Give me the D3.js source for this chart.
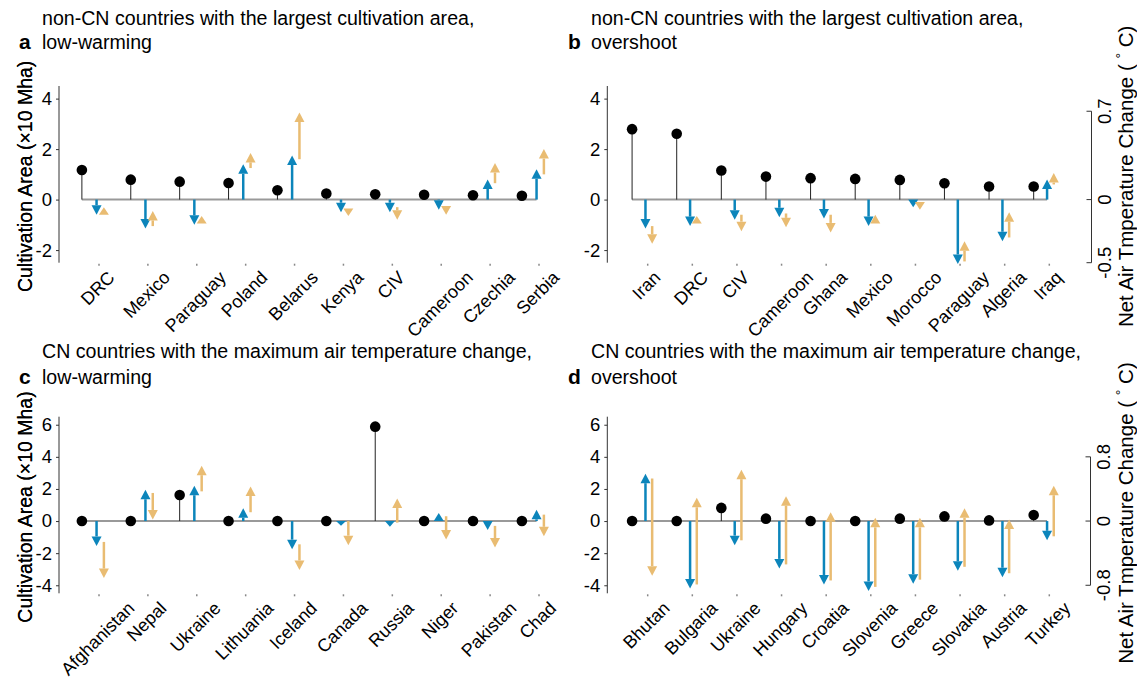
<!DOCTYPE html>
<html>
<head>
<meta charset="utf-8">
<script src="https://cdn.jsdelivr.net/npm/d3@7"></script>
<style>
  body { margin: 0; background: #fff; }
  svg text { font-family: "Liberation Sans", Arial, sans-serif; fill: #000; }
</style>
</head>
<body>
<div id="chart"></div>
<script>
// ---- data (area in x10 Mha, temperature in deg C) ----
var countriesA = ["DRC", "Mexico", "Paraguay", "Poland", "Belarus", "Kenya", "CIV", "Cameroon", "Czechia", "Serbia"];
var areaA = [1.17, 0.79, 0.71, 0.66, 0.37, 0.24, 0.21, 0.19, 0.17, 0.15];
var blueA = [-0.12, -0.23, -0.20, 0.28, 0.35, -0.10, -0.10, -0.08, 0.16, 0.24];
var tanFromA = [-0.12, -0.21, -0.19, 0.25, 0.32, -0.07, -0.06, -0.05, 0.13, 0.20];
var tanToA = [-0.06, -0.09, -0.13, 0.37, 0.69, -0.13, -0.16, -0.12, 0.29, 0.40];

var countriesB = ["Iran", "DRC", "CIV", "Cameroon", "Ghana", "Mexico", "Morocco", "Paraguay", "Algeria", "Iraq"];
var areaB = [2.79, 2.61, 1.15, 0.91, 0.85, 0.82, 0.78, 0.65, 0.52, 0.52];
var blueB = [-0.23, -0.21, -0.16, -0.14, -0.15, -0.21, -0.06, -0.51, -0.33, 0.16];
var tanFromB = [-0.21, -0.19, -0.12, -0.11, -0.12, -0.19, -0.02, -0.49, -0.30, 0.12];
var tanToB = [-0.35, -0.13, -0.25, -0.22, -0.26, -0.12, -0.08, -0.33, -0.10, 0.21];

var countriesC = ["Afghanistan", "Nepal", "Ukraine", "Lithuania", "Iceland", "Canada", "Russia", "Niger", "Pakistan", "Chad"];
var areaC = [0, 0, 1.62, 0, 0, 0, 5.88, 0, 0, 0];
var blueC = [-0.31, 0.39, 0.44, 0.16, -0.35, -0.06, -0.07, 0.10, -0.11, 0.14];
var tanFromC = [-0.26, 0.35, 0.37, 0.11, -0.29, 0.00, -0.02, 0.06, -0.06, 0.08];
var tanToC = [-0.71, 0.02, 0.69, 0.43, -0.61, -0.30, 0.28, -0.23, -0.33, -0.19];

var countriesD = ["Bhutan", "Bulgaria", "Ukraine", "Hungary", "Croatia", "Slovenia", "Greece", "Slovakia", "Austria", "Turkey"];
var areaD = [0, 0, 0.82, 0.15, 0, 0, 0.15, 0.29, 0.04, 0.38];
var blueD = [0.59, -0.84, -0.30, -0.59, -0.79, -0.87, -0.78, -0.62, -0.70, -0.24];
var tanFromD = [0.53, -0.79, -0.24, -0.54, -0.74, -0.82, -0.73, -0.57, -0.65, -0.19];
var tanToD = [-0.68, 0.29, 0.64, 0.31, 0.11, 0.04, 0.04, 0.16, 0.02, 0.44];

var titlesA = ["non-CN countries with the largest cultivation area,", "low-warming"];
var titlesB = ["non-CN countries with the largest cultivation area,", "overshoot"];
var titlesC = ["CN countries with the maximum air temperature change,", "low-warming"];
var titlesD = ["CN countries with the maximum air temperature change,", "overshoot"];

var areaTicksTop = [-2, 0, 2, 4];
var areaTicksBottom = [-4, -2, 0, 2, 4, 6];
var tempTicksTop = [-0.5, 0, 0.7];
var tempTicksBottom = [-0.8, 0, 0.8];

var blue = "#0c85bb", tan = "#e9bc72";

var svg = d3.select("#chart").append("svg")
    .attr("width", 1137)
    .attr("height", 685);

function drawPanel(p) {
  var g = svg.append("g");

  var x = d3.scaleLinear().domain([1, 10]).range([p.x1, p.x10]);
  var y = d3.scaleLinear().domain(p.yDomain).range([p.bottom, p.top]);
  // temperature shares the same zero, 1 deg C = 5 area units
  var yT = d3.scaleLinear().domain([p.yDomain[0] / 5, p.yDomain[1] / 5]).range([p.bottom, p.top]);

  var rows = p.names.map(function(n, i) {
    return { name: n, i: i + 1, area: p.area[i], blue: p.blue[i], tf: p.tanFrom[i], tt: p.tanTo[i] };
  });

  // left axis
  var yAxis = d3.axisLeft(y).tickValues(p.yTicks).tickSize(3).tickPadding(4)
    .tickFormat(function(d) { return String(d); });
  var ax = g.append("g").attr("transform", "translate(" + p.axisX + ",0)").call(yAxis);
  ax.select(".domain").attr("d", "M0," + p.top + "V" + p.bottom).attr("stroke", "#333");
  ax.selectAll(".tick line").attr("stroke", "#333");
  ax.selectAll("text").style("font-size", "18.5px").attr("fill", "#000");

  // x ticks (tiny marks) and rotated labels, centred on the tick
  g.selectAll(".xt").data(rows).enter().append("line")
    .attr("x1", function(d) { return x(d.i); })
    .attr("x2", function(d) { return x(d.i); })
    .attr("y1", p.bottom + 1).attr("y2", p.bottom + 3)
    .attr("stroke", "#888").attr("stroke-width", 1.5);
  g.selectAll(".xl").data(rows).enter().append("text")
    .attr("text-anchor", "end")
    .style("font-size", "18px")
    .text(function(d) { return d.name; })
    .attr("transform", function(d) {
      var L = this.getComputedTextLength();
      return "translate(" + (x(d.i) + 3 + 0.354 * L) + "," + (p.bottom + 16) + ")rotate(-45)";
    });

  // zero baseline
  g.append("line")
    .attr("x1", x(1 - 0.35)).attr("x2", x(10 - 0.05))
    .attr("y1", y(0)).attr("y2", y(0))
    .attr("stroke", "#999").attr("stroke-width", 2);

  // stems and dots
  g.selectAll(".stem").data(rows).enter().append("line")
    .attr("x1", function(d) { return x(d.i - 0.35); })
    .attr("x2", function(d) { return x(d.i - 0.35); })
    .attr("y1", y(0))
    .attr("y2", function(d) { return y(d.area); })
    .attr("stroke", "#222").attr("stroke-width", 1);
  g.selectAll(".dot").data(rows).enter().append("circle")
    .attr("cx", function(d) { return x(d.i - 0.35); })
    .attr("cy", function(d) { return y(d.area); })
    .attr("r", 5.3)
    .attr("fill", "#000");

  function arrow(xp, y0, y1, col) {
    var len = Math.abs(y1 - y0), dir = y1 > y0 ? 1 : -1;
    var hl = Math.min(9.5, len), hw = 5;
    if (len > hl) {
      g.append("line")
        .attr("x1", xp).attr("x2", xp)
        .attr("y1", y0).attr("y2", y1 - dir * hl)
        .attr("stroke", col).attr("stroke-width", 2.5);
    }
    g.append("path")
      .attr("d", "M" + (xp - hw) + "," + (y1 - dir * hl) + "L" + (xp + hw) + "," + (y1 - dir * hl) + "L" + xp + "," + y1 + "Z")
      .attr("fill", col);
  }

  rows.forEach(function(d) {
    arrow(x(d.i - 0.05), yT(0), yT(d.blue), blue);
    arrow(x(d.i + 0.1), yT(d.tf), yT(d.tt), tan);
  });

  // left axis title
  g.append("text")
    .attr("transform", "translate(32," + ((p.top + p.bottom) / 2 + 2) + ")rotate(-90)")
    .attr("text-anchor", "middle")
    .style("font-size", "19.5px")
    .text("Cultivation Area (×10 Mha)");

  // right axis
  if (p.tTicks) {
    var rx = p.rightX;
    var tk = p.tTicks;
    g.append("line").attr("x1", rx).attr("x2", rx)
      .attr("y1", yT(tk[0])).attr("y2", yT(tk[tk.length - 1]))
      .attr("stroke", "#333");
    g.selectAll(".rt").data(tk).enter().append("line")
      .attr("x1", rx - 5).attr("x2", rx)
      .attr("y1", function(d) { return yT(d); })
      .attr("y2", function(d) { return yT(d); })
      .attr("stroke", "#333");
    g.selectAll(".rl").data(tk).enter().append("text")
      .attr("transform", function(d) { return "translate(" + (rx + 19) + "," + yT(d) + ")rotate(-90)"; })
      .attr("text-anchor", "middle")
      .style("font-size", "18.5px")
      .text(function(d) { return String(d); });
    var rt = g.append("text")
      .attr("transform", "translate(1133," + ((p.top + p.bottom) / 2 + p.rtShift) + ")rotate(-90)")
      .attr("text-anchor", "middle")
      .style("font-size", "20.5px")
      .text("Net Air Tmperature Change ( ");
    rt.append("tspan").attr("dy", -7).style("font-size", "14px").text("°");
    rt.append("tspan").attr("dy", 7).text(" C)");
  }

  // panel letter and title
  g.append("text").attr("x", p.letterX).attr("y", p.titleY + p.gap)
    .style("font-size", "21px").style("font-weight", "bold").text(p.letter);
  p.titles.forEach(function(t, k) {
    g.append("text").attr("x", p.letterX + 23).attr("y", p.titleY + k * p.gap)
      .style("font-size", "19.6px").text(t);
  });
}

var colL = { x1: 99, x10: 539, axisX: 59 };
var colR = { x1: 647.7, x10: 1049.3, axisX: 607.3 };

drawPanel({ letter: "a", letterX: 19, titleY: 25, gap: 24, titles: titlesA, names: countriesA, area: areaA, blue: blueA, tanFrom: tanFromA, tanTo: tanToA,
  x1: colL.x1, x10: colL.x10, axisX: colL.axisX, top: 86, bottom: 262.7, yDomain: [-2.5, 4.5], yTicks: areaTicksTop });
drawPanel({ letter: "b", letterX: 568, titleY: 25, gap: 24, titles: titlesB, names: countriesB, area: areaB, blue: blueB, tanFrom: tanFromB, tanTo: tanToB,
  x1: colR.x1, x10: colR.x10, axisX: colR.axisX, top: 86, bottom: 262.7, yDomain: [-2.5, 4.5], yTicks: areaTicksTop,
  tTicks: tempTicksTop, rightX: 1091.5, rtShift: 2 });
drawPanel({ letter: "c", letterX: 19, titleY: 358, gap: 26, titles: titlesC, names: countriesC, area: areaC, blue: blueC, tanFrom: tanFromC, tanTo: tanToC,
  x1: colL.x1, x10: colL.x10, axisX: colL.axisX, top: 416.7, bottom: 593.3, yDomain: [-4.5, 6.5], yTicks: areaTicksBottom });
drawPanel({ letter: "d", letterX: 568, titleY: 358, gap: 26, titles: titlesD, names: countriesD, area: areaD, blue: blueD, tanFrom: tanFromD, tanTo: tanToD,
  x1: colR.x1, x10: colR.x10, axisX: colR.axisX, top: 416.7, bottom: 593.3, yDomain: [-4.5, 6.5], yTicks: areaTicksBottom,
  tTicks: tempTicksBottom, rightX: 1090.5, rtShift: 8 });
</script>
</body>
</html>
